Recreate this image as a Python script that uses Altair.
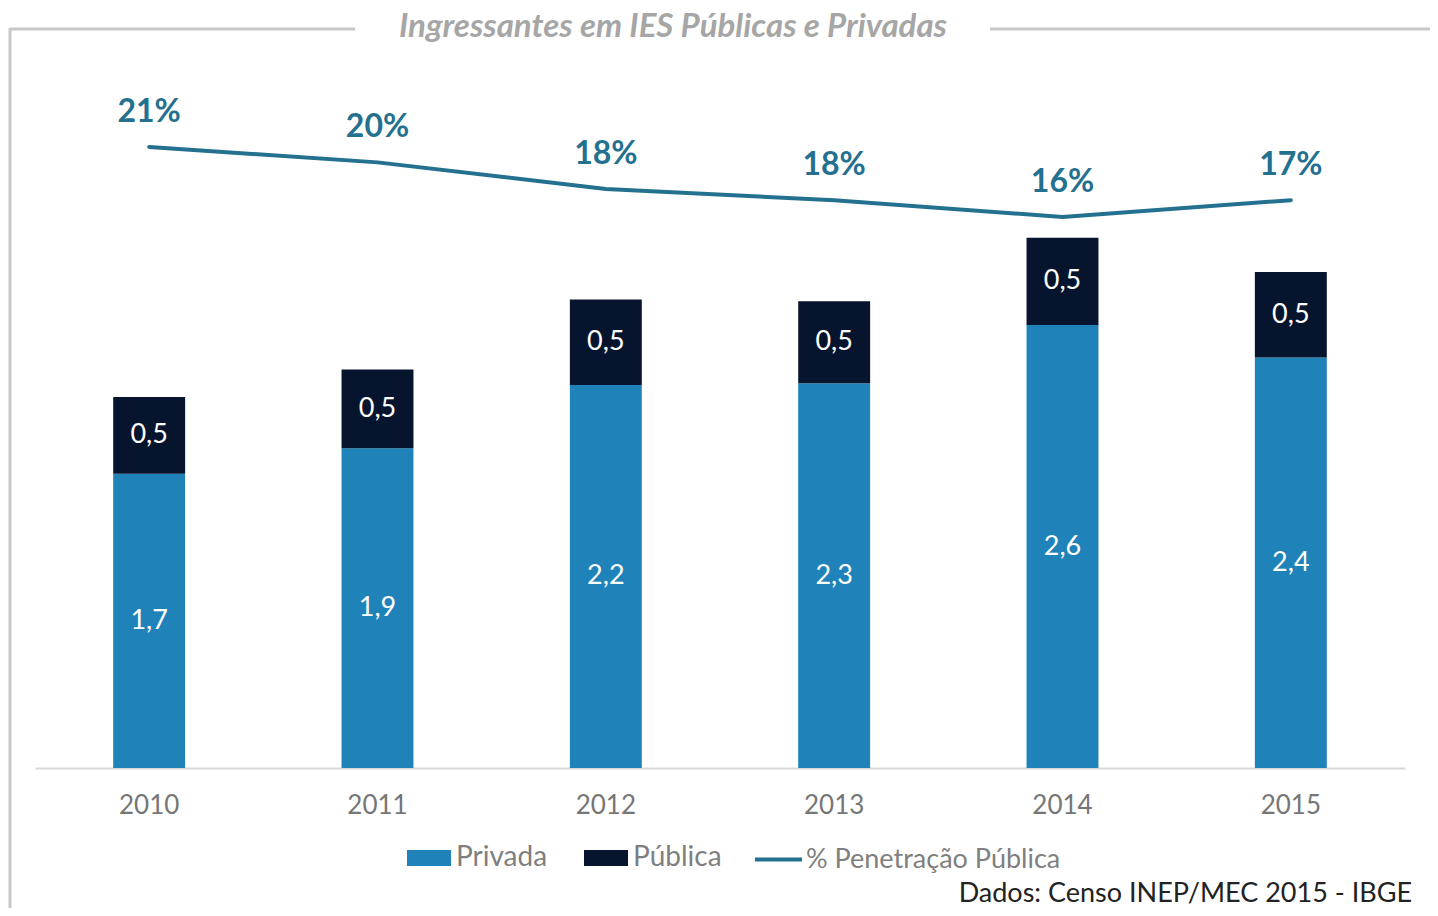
import altair as alt
import pandas as pd

anos = ["2010", "2011", "2012", "2013", "2014", "2015"]
privada = [1.72, 1.87, 2.24, 2.25, 2.59, 2.40]
publica = [0.45, 0.46, 0.50, 0.48, 0.51, 0.50]
privada_lbl = ["1,7", "1,9", "2,2", "2,3", "2,6", "2,4"]
publica_lbl = ["0,5", "0,5", "0,5", "0,5", "0,5", "0,5"]
penetracao = [21.0, 19.9, 18.0, 17.2, 16.0, 17.2]
penetracao_lbl = ["21%", "20%", "18%", "18%", "16%", "17%"]

C_PRIV = "#1f82b9"
C_PUB = "#06152d"
C_LINE = "#23708f"
FONT = "Lato"

rows = []
for i, a in enumerate(anos):
    rows.append({"ano": a, "serie": "Privada", "ord": 0, "v": privada[i],
                 "mid": privada[i] / 2, "lbl": privada_lbl[i]})
    rows.append({"ano": a, "serie": "Pública", "ord": 1, "v": publica[i],
                 "mid": privada[i] + publica[i] / 2, "lbl": publica_lbl[i]})
bars_df = pd.DataFrame(rows)
line_df = pd.DataFrame({"ano": anos, "pct": penetracao, "lbl": penetracao_lbl,
                        "serie": ["% Penetração Pública"] * len(anos)})
one = pd.DataFrame({"k": [0]})

W, H = 1370, 748
bar_scale = alt.Scale(domain=[0, 4.374], nice=False, zero=True)
line_scale = alt.Scale(domain=[-23.36, 30.07], nice=False, zero=False)
x_enc = alt.X("ano:N", title=None, sort=anos,
              scale=alt.Scale(paddingInner=0.685, paddingOuter=0.3425),
              axis=alt.Axis(labelAngle=0, ticks=False, domainColor="#d9d9d9",
                            domainWidth=2, labelFont=FONT, labelFontSize=26,
                            labelColor="#767676", labelPadding=24, grid=False))

bars = alt.Chart(bars_df).mark_bar().encode(
    x=x_enc,
    y=alt.Y("v:Q", stack="zero", scale=bar_scale, axis=None),
    color=alt.Color("serie:N", scale=alt.Scale(domain=["Privada", "Pública"], range=[C_PRIV, C_PUB]),
                    legend=alt.Legend(orient="none", legendX=372, legendY=816, direction="horizontal",
                                      title=None, symbolType="M-1,-0.36L1,-0.36L1,0.36L-1,0.36Z",
                                      symbolSize=1936, symbolStrokeWidth=0, symbolOpacity=1,
                                      labelFont=FONT, labelFontSize=28, labelColor="#7f7f7f",
                                      labelOffset=5, columnPadding=36, padding=0, labelLimit=400)),
    order=alt.Order("ord:Q", sort="ascending"),
)

bar_text = alt.Chart(bars_df).mark_text(font=FONT, fontSize=27, color="white", baseline="middle").encode(
    x=alt.X("ano:N", sort=anos), y=alt.Y("mid:Q", scale=bar_scale, axis=None), text="lbl:N")

line = alt.Chart(line_df).mark_line(strokeWidth=4, strokeCap="round").encode(
    x=alt.X("ano:N", sort=anos),
    y=alt.Y("pct:Q", scale=line_scale, axis=None),
    color=alt.Color("serie:N", scale=alt.Scale(range=[C_LINE]),
                    legend=alt.Legend(orient="none", legendX=718, legendY=814, title=None,
                                      symbolType="stroke", symbolSize=2209, symbolStrokeWidth=4,
                                      labelFont=FONT, labelFontSize=27, labelColor="#7f7f7f",
                                      labelOffset=2, padding=0, labelLimit=500)),
)

line_text = alt.Chart(line_df).mark_text(font=FONT, fontSize=32, fontWeight="bold", color=C_LINE,
                                         baseline="middle", dy=-35).encode(
    x=alt.X("ano:N", sort=anos), y=alt.Y("pct:Q", scale=line_scale, axis=None), text="lbl:N")

FRAME = "#c8c8c8"
frame_top_l = alt.Chart(one).mark_rule(color=FRAME, strokeWidth=3).encode(
    x=alt.value(-25), x2=alt.value(320), y=alt.value(9))
frame_top_r = alt.Chart(one).mark_rule(color=FRAME, strokeWidth=3).encode(
    x=alt.value(955), x2=alt.value(1400), y=alt.value(9))
frame_left = alt.Chart(one).mark_rule(color=FRAME, strokeWidth=3).encode(
    x=alt.value(-25), y=alt.value(8), y2=alt.value(890))

title = alt.Chart(one).mark_text(font=FONT, fontSize=33, fontStyle="italic", fontWeight="bold",
                                 color="#a6a6a6", align="center", baseline="alphabetic").encode(
    x=alt.value(638), y=alt.value(17), text=alt.value("Ingressantes em IES Públicas e Privadas"))

source = alt.Chart(one).mark_text(font=FONT, fontSize=27, color="#222222", align="right",
                                  baseline="middle").encode(
    x=alt.value(1377), y=alt.value(874), text=alt.value("Dados: Censo INEP/MEC 2015 - IBGE"))

chart = alt.layer(
    bars, bar_text, line, line_text, frame_top_l, frame_top_r, frame_left, title, source
).resolve_scale(y="independent", color="independent").properties(
    width=W, height=H,
    autosize=alt.AutoSizeParams(type="none"),
    padding={"left": 27, "top": 12, "right": 25, "bottom": 140},
).configure_view(stroke=None)

chart.save("out.html", embed_options={"renderer": "svg", "actions": False})
